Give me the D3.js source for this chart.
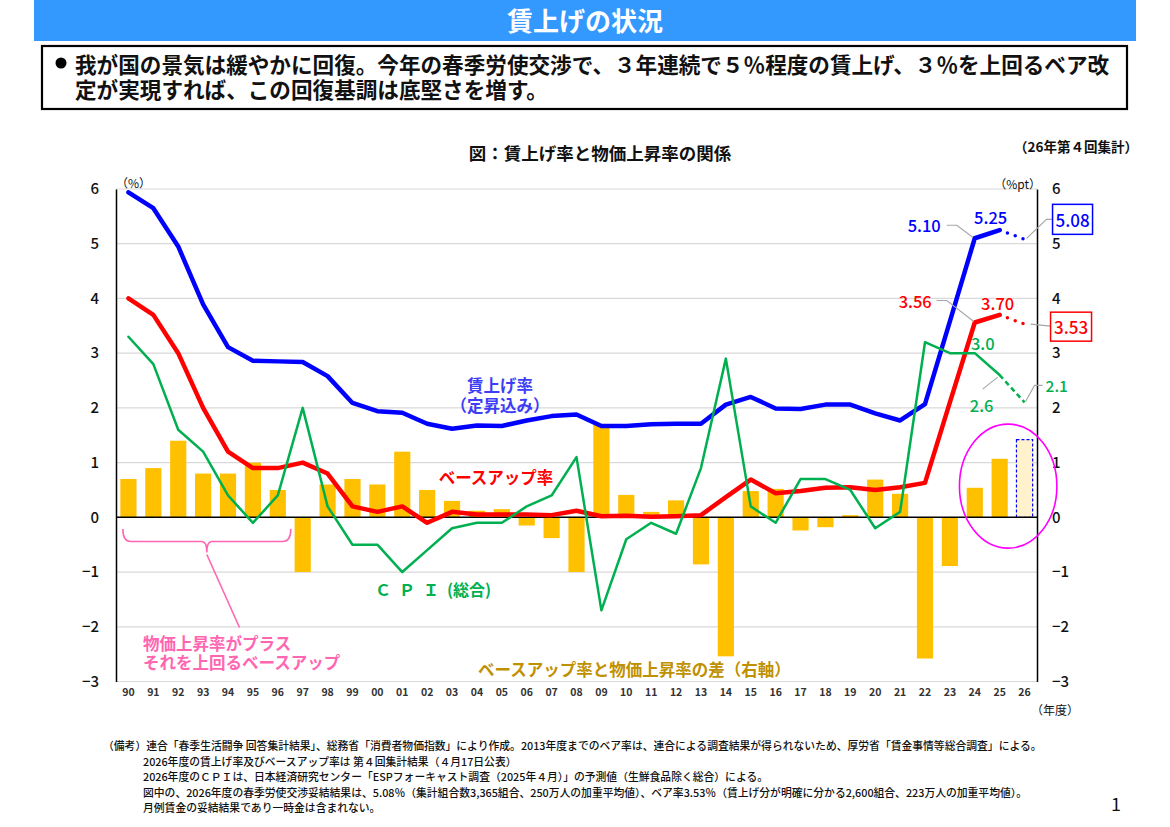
<!DOCTYPE html>
<html><head><meta charset="utf-8">
<script src="https://cdn.jsdelivr.net/npm/d3@7"></script>
<style>body{margin:0;background:#fff;} svg{display:block;} text{font-family:"Noto Sans CJK JP","Noto Sans",sans-serif;}</style>
</head><body><svg id="c" width="1170" height="827"></svg>
<script>
// ---------- data ----------
const years = ["90","91","92","93","94","95","96","97","98","99","00","01","02","03","04","05","06","07","08","09","10","11","12","13","14","15","16","17","18","19","20","21","22","23","24","25","26"];
const wageRate = [5.94,5.65,4.95,3.89,3.11,2.86,2.85,2.84,2.58,2.09,1.94,1.91,1.71,1.62,1.68,1.67,1.77,1.85,1.88,1.67,1.67,1.70,1.71,1.71,2.06,2.20,1.99,1.98,2.06,2.06,1.90,1.77,2.07,3.58,5.10,5.25,5.08];
const baseUpRate = [4.0,3.7,3.0,2.0,1.2,0.9,0.9,1.0,0.8,0.2,0.1,0.2,-0.1,0.1,0.05,0.05,0.05,0.04,0.12,0.02,0.03,0.01,0.02,0.04,0.37,0.69,0.44,0.48,0.54,0.55,0.50,0.55,0.63,2.10,3.56,3.70,3.53];
const cpi = [3.3,2.8,1.6,1.2,0.4,-0.1,0.4,2.0,0.2,-0.5,-0.5,-1.0,-0.6,-0.2,-0.1,-0.1,0.2,0.4,1.1,-1.7,-0.4,-0.1,-0.3,0.9,2.9,0.2,-0.1,0.7,0.7,0.5,-0.2,0.1,3.2,3.0,3.0,2.6,2.1];
const gap = [0.7,0.9,1.4,0.8,0.8,1.0,0.5,-1.0,0.6,0.7,0.6,1.2,0.5,0.3,0.12,0.15,-0.15,-0.38,-1.0,1.7,0.41,0.1,0.31,-0.86,-2.54,0.48,0.52,-0.24,-0.18,0.04,0.69,0.43,-2.58,-0.89,0.54,1.07,1.42];
const yTicks = [-3,-2,-1,0,1,2,3,4,5,6];
const projectedYear = "26";

const headerTitle = "賃上げの状況";
const bodyLines = ["我が国の景気は緩やかに回復。今年の春季労使交渉で、３年連続で５％程度の賃上げ、３％を上回るベア改","定が実現すれば、この回復基調は底堅さを増す。"];
const notes = [
 "（備考）連合「春季生活闘争 回答集計結果」、総務省「消費者物価指数」により作成。2013年度までのベア率は、連合による調査結果が得られないため、厚労省「賃金事情等総合調査」による。",
 "2026年度の賃上げ率及びベースアップ率は 第４回集計結果（４月17日公表）",
 "2026年度のＣＰＩは、日本経済研究センター「ESPフォーキャスト調査（2025年４月）」の予測値（生鮮食品除く総合）による。",
 "図中の、2026年度の春季労使交渉妥結結果は、5.08％（集計組合数3,365組合、250万人の加重平均値）、ベア率3.53％（賃上げ分が明確に分かる2,600組合、223万人の加重平均値）。",
 "月例賃金の妥結結果であり一時金は含まれない。"
];

(function () {
// ---------- setup ----------
const svg = d3.select("#c");
const W = 1170, H = 827;
svg.append("rect").attr("width", W).attr("height", H).attr("fill", "#fff");

// header
svg.append("rect").attr("x", 34).attr("y", 0).attr("width", 1102).attr("height", 41).attr("fill", "#3399FF");
svg.append("text").attr("x", 585).attr("y", 19).attr("text-anchor", "middle").attr("dominant-baseline", "central")
  .attr("fill", "#fff").attr("font-size", 26).attr("font-weight", 700).text(headerTitle);

svg.append("rect").attr("x", 42).attr("y", 46).attr("width", 1085).attr("height", 63)
  .attr("fill", "none").attr("stroke", "#000").attr("stroke-width", 2.2);
svg.append("circle").attr("cx", 61).attr("cy", 63).attr("r", 5.5).attr("fill", "#000");
bodyLines.forEach((t, i) => {
  svg.append("text").attr("x", 75).attr("y", 63 + i * 25).attr("dominant-baseline", "central")
    .attr("font-size", 21.6).attr("font-weight", 700).attr("fill", "#111").text(t);
});

// chart titles
svg.append("text").attr("x", 600).attr("y", 152).attr("text-anchor", "middle").attr("dominant-baseline", "central")
  .attr("font-size", 17.5).attr("font-weight", 700).attr("fill", "#111").text("図：賃上げ率と物価上昇率の関係");
svg.append("text").attr("x", 1138).attr("y", 146).attr("text-anchor", "end").attr("dominant-baseline", "central")
  .attr("font-size", 13.5).attr("font-weight", 700).attr("fill", "#111").text("（26年第４回集計）");

// ---------- scales ----------
const pL = 116, pR = 1037, pT = 189, pB = 681.5;
const x = d3.scaleBand().domain(years).range([pL, pR]).paddingInner(0.35).paddingOuter(0.175);
const y = d3.scaleLinear().domain([-3, 6]).range([pB, pT]);
const yR = d3.scaleLinear().domain([-3, 6]).range([pB, pT]);
const cx = d => x(d) + x.bandwidth() / 2;

// gridlines
svg.append("g").selectAll("line").data(yTicks.filter(t => t !== 0)).join("line")
  .attr("x1", pL).attr("x2", pR).attr("y1", d => y(d)).attr("y2", d => y(d))
  .attr("stroke", "#D9D9D9").attr("stroke-width", 1.2);

// bars
svg.append("g").selectAll("rect").data(years.map((yr, i) => ({yr, v: gap[i]}))).join("rect")
  .attr("x", d => x(d.yr)).attr("width", x.bandwidth())
  .attr("y", d => Math.min(yR(d.v), yR(0))).attr("height", d => Math.abs(yR(d.v) - yR(0)))
  .attr("fill", d => d.yr === projectedYear ? "#FFF2CC" : "#FFC000")
  .attr("stroke", d => d.yr === projectedYear ? "#0000FF" : "none")
  .attr("stroke-dasharray", d => d.yr === projectedYear ? "3,2" : null)
  .attr("stroke-width", 1.2);

// zero line
svg.append("line").attr("x1", pL).attr("x2", pR).attr("y1", y(0)).attr("y2", y(0)).attr("stroke", "#000").attr("stroke-width", 1.5);

// axes
const axL = svg.append("g").attr("transform", `translate(${pL},0)`)
  .call(d3.axisLeft(y).tickValues(yTicks).tickSize(0).tickPadding(17).tickSizeOuter(0));
axL.select(".domain").attr("stroke", "#000").attr("stroke-width", 1.5);
axL.selectAll("text").attr("font-size", 15).attr("font-weight", 500).attr("fill", "#111");
const axR = svg.append("g").attr("transform", `translate(${pR},0)`)
  .call(d3.axisRight(yR).tickValues(yTicks).tickSize(0).tickPadding(15).tickSizeOuter(0));
axR.select(".domain").attr("stroke", "#000").attr("stroke-width", 1.5);
axR.selectAll("text").attr("font-size", 15).attr("font-weight", 500).attr("fill", "#111");
const axB = svg.append("g").attr("transform", `translate(0,${pB})`)
  .call(d3.axisBottom(x).tickSize(0).tickPadding(7));
axB.select(".domain").remove();
axB.selectAll("text").attr("font-size", 10.5).attr("font-weight", 700).attr("fill", "#333");

svg.append("text").attr("x", 116).attr("y", 182).attr("dominant-baseline", "central").attr("font-size", 12).attr("fill", "#111").text("（%）");
svg.append("text").attr("x", 1041).attr("y", 183).attr("text-anchor", "end").attr("dominant-baseline", "central").attr("font-size", 12).attr("fill", "#111").text("（%pt）");
svg.append("text").attr("x", 1031).attr("y", 709).attr("dominant-baseline", "central").attr("font-size", 12).attr("fill", "#111").text("（年度）");

// ---------- lines ----------
function drawSeries(vals, color, width, projDash) {
  const pts = years.map((yr, i) => [cx(yr), y(vals[i])]);
  const line = d3.line();
  const n = pts.length;
  svg.append("path").attr("d", line(pts.slice(0, n - 1))).attr("fill", "none")
    .attr("stroke", color).attr("stroke-width", width).attr("stroke-linejoin", "round").attr("stroke-linecap", "round");
  svg.append("path").attr("d", line(pts.slice(n - 2))).attr("fill", "none")
    .attr("stroke", color).attr("stroke-width", projDash.w).attr("stroke-dasharray", projDash.dash)
    .attr("stroke-linecap", projDash.cap);
}
drawSeries(wageRate, "#0000FF", 4.5, {w: 3.5, dash: "0,8.3", cap: "round"});
drawSeries(baseUpRate, "#FF0000", 4.5, {w: 3.5, dash: "0,8.3", cap: "round"});
drawSeries(cpi, "#00B050", 2.5, {w: 2.5, dash: "5,3.5", cap: "butt"});

// ---------- value labels ----------
const lead = "#A6A6A6";
function leader(points) {
  svg.append("path").attr("d", d3.line()(points)).attr("fill", "none").attr("stroke", lead).attr("stroke-width", 1.1);
}
function label(t, px, py, color, anchor, size) {
  svg.append("text").attr("x", px).attr("y", py).attr("text-anchor", anchor || "middle")
    .attr("dominant-baseline", "central").attr("font-size", size || 16.5).attr("font-weight", 500)
    .attr("fill", color).text(t);
}
const idx = yr => years.indexOf(yr);
// blue
{ const px = cx("24"), py = y(wageRate[idx("24")]);
  label(wageRate[idx("24")].toFixed(2), px - 34, py - 13, "#0000FF", "end");
  leader([[px - 28, py - 13], [px - 18, py - 13], [px - 2, py - 1]]); }
{ const px = cx("25"), py = y(wageRate[idx("25")]);
  label(wageRate[idx("25")].toFixed(2), px - 9, py - 13, "#0000FF"); }
{ const px = cx("26"), py = y(wageRate[idx("26")]);
  leader([[px + 2, py - 1], [px + 22, py - 20], [px + 28, py - 20]]);
  svg.append("rect").attr("x", px + 28).attr("y", py - 35).attr("width", 40).attr("height", 30)
    .attr("fill", "#fff").attr("stroke", "#0000FF").attr("stroke-width", 1.5);
  label(wageRate[idx("26")].toFixed(2), px + 48, py - 20, "#0000FF", "middle", 17); }
// red
{ const px = cx("24"), py = y(baseUpRate[idx("24")]);
  label(baseUpRate[idx("24")].toFixed(2), px - 43, py - 22, "#FF0000", "end");
  leader([[px - 38, py - 22], [px - 28, py - 22], [px - 1, py - 1]]); }
{ const px = cx("25"), py = y(baseUpRate[idx("25")]);
  label(baseUpRate[idx("25")].toFixed(2), px - 2, py - 12, "#FF0000"); }
{ const px = cx("26"), py = y(baseUpRate[idx("26")]);
  leader([[px + 6, py], [px + 26, py + 2]]);
  svg.append("rect").attr("x", px + 26).attr("y", py - 12).attr("width", 41).attr("height", 29)
    .attr("fill", "#fff").attr("stroke", "#FF0000").attr("stroke-width", 1.5);
  label(baseUpRate[idx("26")].toFixed(2), px + 46.5, py + 2.5, "#FF0000", "middle", 17); }
// green
{ const px = cx("24"), py = y(cpi[idx("24")]);
  label(cpi[idx("24")].toFixed(1), px + 8, py - 10, "#00B050"); }
{ const px = cx("25"), py = y(cpi[idx("25")]);
  label(cpi[idx("25")].toFixed(1), px - 18, py + 30, "#00B050");
  leader([[px - 17, py + 14], [px - 2, py + 2]]); }
{ const px = cx("26"), py = y(cpi[idx("26")]);
  label(cpi[idx("26")].toFixed(1), px + 21, py - 17, "#00B050", "start", 15.5);
  leader([[px + 1, py - 1], [px + 10, py - 17], [px + 18, py - 17]]); }

// ---------- annotations ----------
function ann(t, px, py, color, anchor) {
  return svg.append("text").attr("x", px).attr("y", py).attr("text-anchor", anchor || "middle")
    .attr("dominant-baseline", "central").attr("font-size", 16.5).attr("font-weight", 700).attr("fill", color).text(t);
}
ann("賃上げ率", 500, 385, "#3D3DF5");
ann("（定昇込み）", 500, 404.5, "#3D3DF5");
ann("ベースアップ率", 496, 477, "#FF0000");
{
  const t = svg.append("text").attr("x", 375).attr("y", 589).attr("dominant-baseline", "central")
    .attr("font-size", 16).attr("font-weight", 700).attr("fill", "#00B050");
  t.append("tspan").attr("letter-spacing", 8).text("ＣＰＩ");
  t.append("tspan").text("(総合)");
}
ann("ベースアップ率と物価上昇率の差（右軸）", 478, 669, "#BF9000", "start");
ann("物価上昇率がプラス", 143, 643, "#FF66B2", "start");
ann("それを上回るベースアップ", 143, 662, "#FF66B2", "start");

// brace
{
  const x0 = x("90") + 2.5, x1 = cx("96") + 13, ym = 541.5, yt = 529, mid = (x0 + x1) / 2;
  svg.append("path").attr("d", `M${x0},${yt} Q${x0},${ym} ${x0 + 8},${ym} L${mid - 5},${ym} Q${mid},${ym} ${mid},${ym + 11} Q${mid},${ym} ${mid + 5},${ym} L${x1 - 8},${ym} Q${x1},${ym} ${x1},${yt}`)
    .attr("fill", "none").attr("stroke", "#FF66B2").attr("stroke-width", 1.6);
  svg.append("line").attr("x1", mid).attr("y1", ym + 13).attr("x2", 239.5).attr("y2", 627.5)
    .attr("stroke", "#FF66B2").attr("stroke-width", 1.6);
}

// magenta ellipse
svg.append("ellipse").attr("cx", cx("25") + 8.5).attr("cy", y(0.57)).attr("rx", 48.7).attr("ry", 62)
  .attr("fill", "none").attr("stroke", "#FF00FF").attr("stroke-width", 1.6);

// ---------- notes ----------
const noteY = [745, 760.5, 776, 791.5, 807];
notes.forEach((t, i) => {
  svg.append("text").attr("x", i === 0 ? 103 : 143).attr("y", noteY[i]).attr("dominant-baseline", "central")
    .attr("font-size", 10.8).attr("font-weight", 500).attr("fill", "#111").text(t);
});
svg.append("text").attr("x", 1116).attr("y", 803).attr("text-anchor", "middle").attr("dominant-baseline", "central")
  .attr("font-size", 18).attr("fill", "#111").text("1");
})();
</script></body></html>
